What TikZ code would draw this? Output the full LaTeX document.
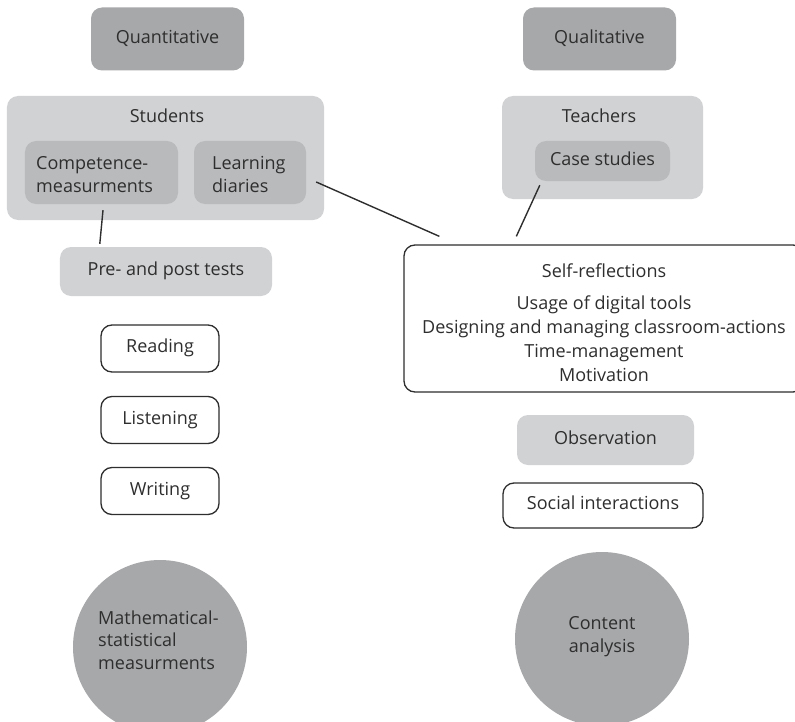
\documentclass[tikz,border=0pt]{standalone}
\usepackage{fontspec}
\setmainfont{Open Sans}
\usetikzlibrary{calc}
\definecolor{darkfill}{HTML}{A7A8AA}
\definecolor{midfill}{HTML}{B9BABC}
\definecolor{lightfill}{HTML}{D1D2D4}
\definecolor{ink}{HTML}{2E2E2E}

\begin{document}
\begin{tikzpicture}[x=1bp,y=-1bp,
  every node/.style={font=\fontsize{18bp}{23bp}\selectfont, text=ink, inner sep=0pt},
  size/.style 2 args={minimum width=#1bp, minimum height=#2bp},
  oneline/.style={text height=0.84em, text depth=0pt},
  darkbox/.style={fill=darkfill, rounded corners=11bp, oneline},
  midbox/.style={fill=midfill, rounded corners=11bp},
  lightbox/.style={fill=lightfill, rounded corners=11bp},
  outlinebox/.style={draw=ink, line width=1.3bp, fill=white, rounded corners=11bp},
  disc/.style={circle, fill=darkfill, minimum size=174bp},
  link/.style={draw=ink, line width=1.4bp}
]
\useasboundingbox (0,0) rectangle (795,722);
\clip (0,0) rectangle (795,722);

% ---- quantitative column ----
\node[darkbox, size={153}{63}] (quant) at (167.5,39) {Quantitative};

\node[lightbox, size={317}{124}] (students) at (165.5,158) {};
\node[oneline] (studentslabel) at (167,118) {Students};
\node[midbox, size={153}{63}] (comp) at (101.5,172.5) {};
\node[anchor=base west, align=left] (comptext) at (36,192) {Competence-\\measurments};
\node[midbox, size={112}{63}] (diaries) at (250,172.5) {};
\node[anchor=base west, align=left] (diariestext) at (212,192) {Learning\\diaries};

\node[lightbox, oneline, size={212}{49}] (pre) at (166,271.5) {Pre- and post tests};

\node[outlinebox, oneline, size={118}{47}] (reading) at (160,348.5) {Reading};
\node[outlinebox, oneline, size={118}{47}] (listening) at (160,420) {Listening};
\node[outlinebox, oneline, size={118}{47}] (writing) at (160,491) {Writing};

\node[disc] (mathstat) at (160,647) {};
\node[anchor=base west, align=left, font=\fontsize{18bp}{22.5bp}\selectfont]
  (mathtext) at (98,669) {Mathematical-\\statistical\\measurments};

% ---- qualitative column ----
\node[darkbox, size={153}{63}] (qual) at (599.5,39) {Qualitative};

\node[lightbox, size={201}{103}] (teachers) at (602.5,147.5) {};
\node[oneline] (teacherslabel) at (599,118) {Teachers};
\node[midbox, oneline, size={135}{40}] (case) at (602.5,161) {Case studies};

\node[outlinebox, size={400}{147}] (self) at (604,318.5) {};
\node[anchor=base, align=center, font=\fontsize{18bp}{24bp}\selectfont] (selftext) at (604,381)
  {Self-reflections\\[8bp]Usage of digital tools\\Designing and managing classroom-actions\\Time-management\\Motivation};

\node[lightbox, oneline, size={177}{50}] (obs) at (605.5,440) {Observation};
\node[outlinebox, oneline, size={200}{45}] (social) at (603,505.5) {Social interactions};

\node[disc] (content) at (602,639) {};
\node[anchor=base, align=center] (contenttext) at (602,652) {Content\\analysis};

% ---- connectors ----
\draw[link] ($(comp.south)+(1.5,6)$) -- ($(pre.north west)+(40,-3)$);
\draw[link] ($(diaries.east)+(10,9.5)$) -- ($(self.north west)+(36,-8)$);
\draw[link] ($(case.south west)+(5,4)$) -- ($(self.north west)+(113,-8)$);
\end{tikzpicture}
\end{document}
